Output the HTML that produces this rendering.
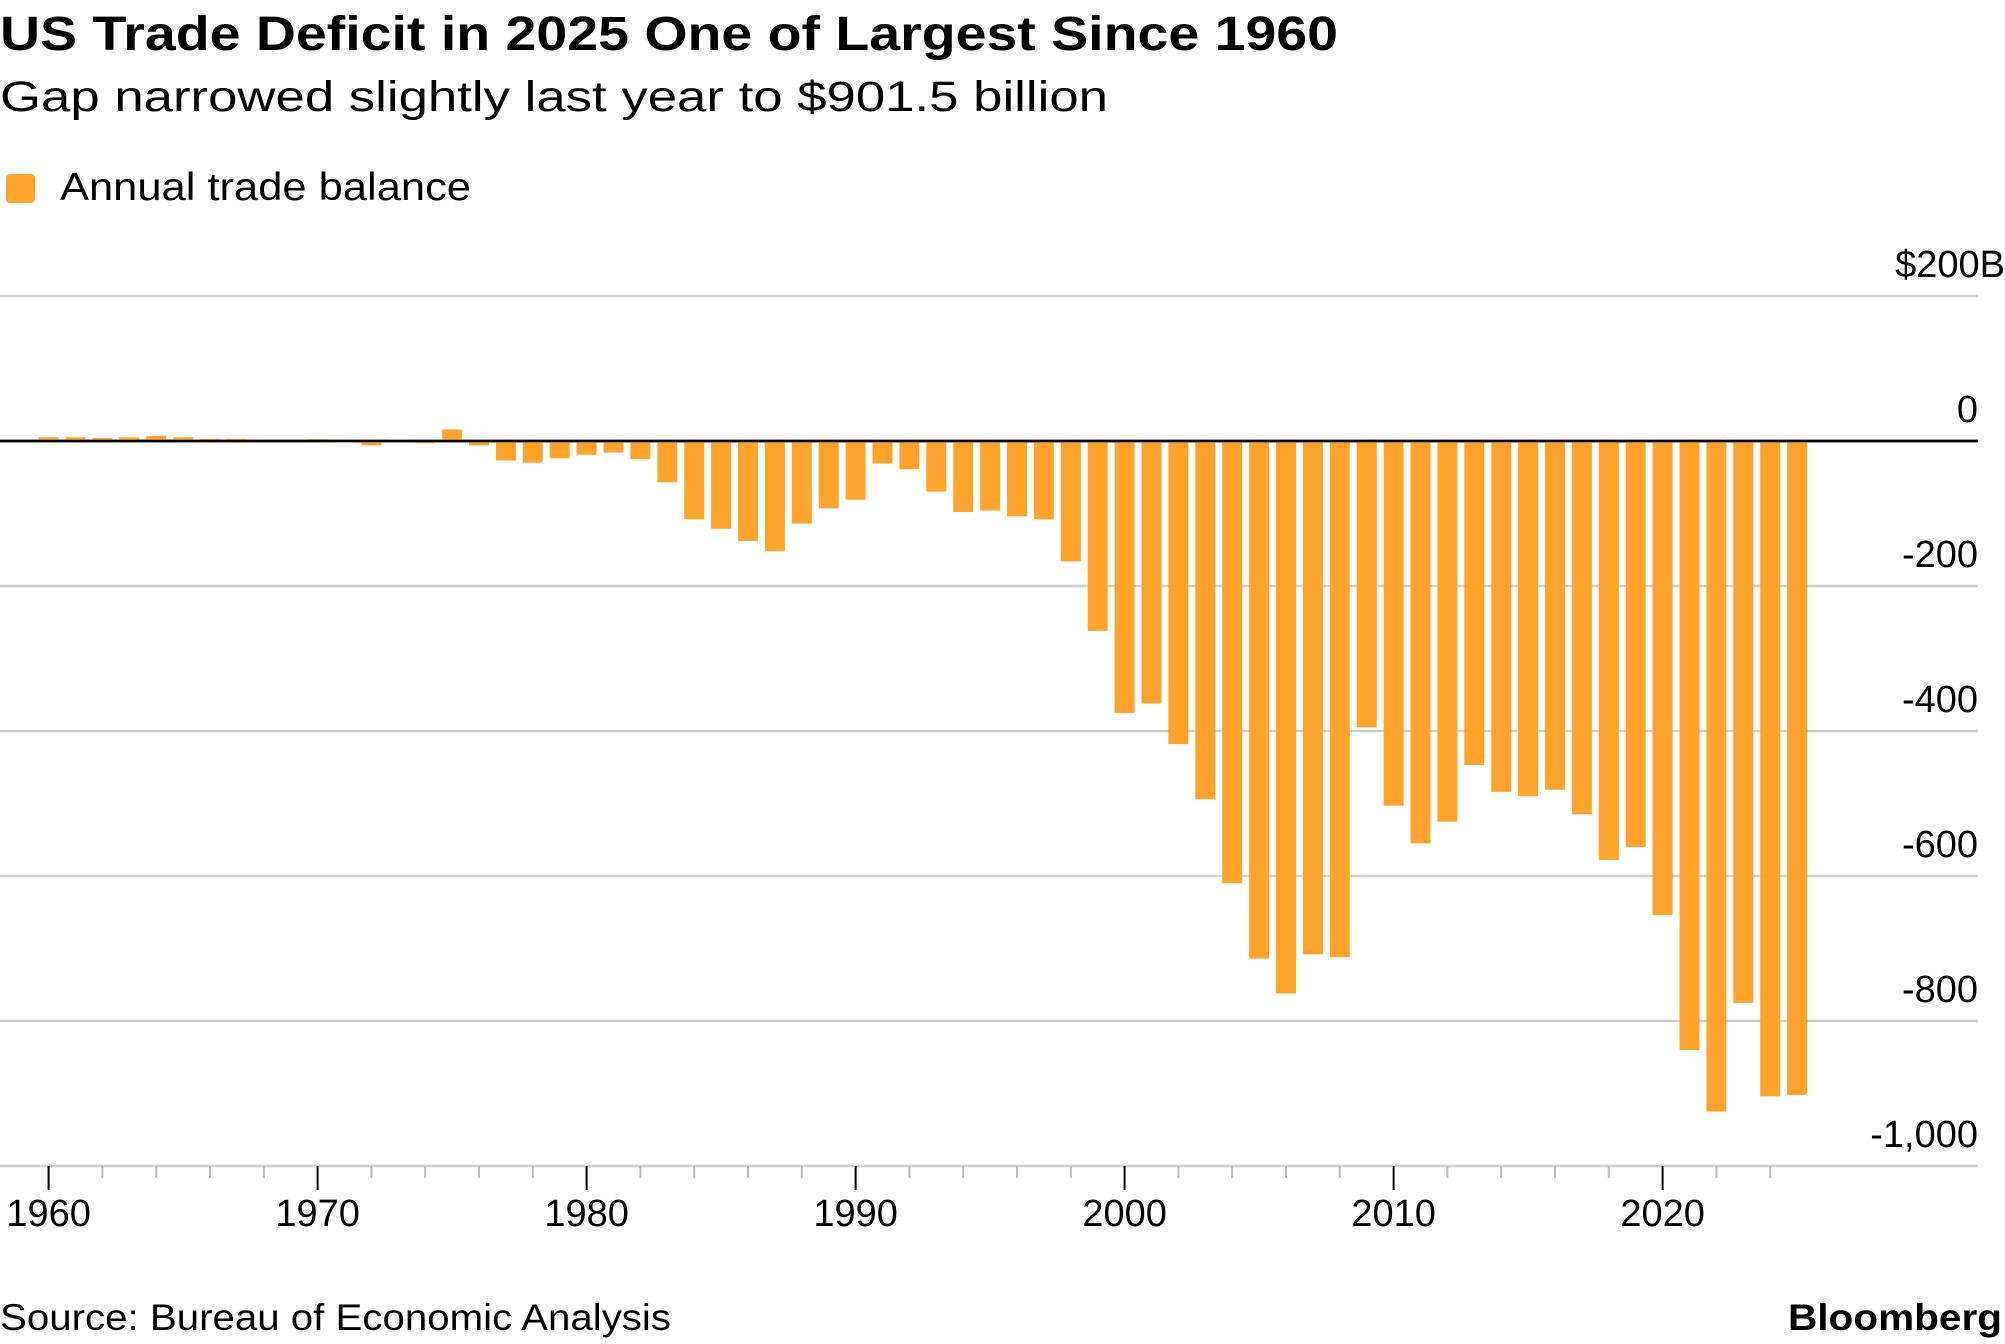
<!DOCTYPE html>
<html><head><meta charset="utf-8"><style>
body{margin:0;background:#fff;width:2005px;height:1344px;overflow:hidden;font-family:"Liberation Sans",sans-serif;}
svg{position:absolute;left:0;top:0}
</style></head><body>
<svg width="2005" height="1344">
<text x="0" y="50" font-size="48" font-weight="bold" fill="#000" textLength="1338" lengthAdjust="spacingAndGlyphs">US Trade Deficit in 2025 One of Largest Since 1960</text>
<text x="0" y="111" font-size="43" fill="#000" textLength="1108" lengthAdjust="spacingAndGlyphs">Gap narrowed slightly last year to $901.5 billion</text>
<rect x="6" y="174" width="29" height="29" rx="4" fill="#ffa32d"/>
<text x="60" y="200" font-size="39" fill="#000" textLength="411" lengthAdjust="spacingAndGlyphs">Annual trade balance</text>
<g id="grid"></g><g id="bars"></g><g id="xaxis"></g>
<text x="0" y="1330" font-size="37" fill="#000" textLength="671" lengthAdjust="spacingAndGlyphs">Source: Bureau of Economic Analysis</text>
<text x="1788" y="1330" font-size="37" font-weight="bold" fill="#000" textLength="214" lengthAdjust="spacingAndGlyphs">Bloomberg</text>
</svg>
<script>
const years=[];for(let y=1960;y<=2025;y++)years.push(y);
const values=[5,5,4,5,7,5,3,3,0.6,0.6,2.6,-2,-6,2,-3,16,-6,-27,-30,-24,-19,-16,-25,-57,-108,-121,-138,-152,-114,-93,-81,-31,-39,-70,-98,-96,-104,-108,-166,-262,-375,-362,-418,-494,-610,-714,-762,-708,-712,-395,-503,-555,-525,-447,-484,-490,-481,-515,-578,-560,-654,-840,-925,-775,-904,-902];
const yTicks=[200,0,-200,-400,-600,-800,-1000];
const yTickLabels=["$200B","0","-200","-400","-600","-800","-1,000"];
const xTickYears=[1960,1970,1980,1990,2000,2010,2020];
const NS="http://www.w3.org/2000/svg";
const yS=v=>441-(v/200)*145;
const xS=y=>48.6+(y-1960)*26.9;
function mk(t,a,p){const e=document.createElementNS(NS,t);for(const k in a)e.setAttribute(k,a[k]);p.appendChild(e);return e;}
const G=document.getElementById('grid'),B=document.getElementById('bars'),X=document.getElementById('xaxis');
yTicks.forEach((v,i)=>{
 const l=mk('line',{x1:0,x2:1978,y1:yS(v),y2:yS(v),stroke:v===0?'#000':'#cfcfcf','stroke-width':2.5},G);
 
 
 const t=mk('text',{x:i===0?2005:1978,y:yS(v)-19,'font-size':38,'text-anchor':'end',fill:'#000'},G);
 t.textContent=yTickLabels[i];
 
 
});
years.forEach((yr,i)=>{
 const v=values[i];const y0=yS(0),y1=yS(v);
 const r=mk('rect',{x:xS(yr)-10,width:20,y:Math.min(y0,y1),height:Math.max(1,Math.abs(y1-y0)),fill:'#ffa32d'},B);
 
 
});
mk('line',{x1:0,x2:1978,y1:441,y2:441,stroke:'#000','stroke-width':2.5},B);
for(let yr=1960;yr<=2024;yr+=2){
 const major=yr%10===0;
 const t=mk('line',{x1:xS(yr),x2:xS(yr),y1:1166,y2:major?1190:1178,stroke:major?'#000':'#bbb','stroke-width':2},X);
 
 
}
xTickYears.forEach(yr=>{
 const t=mk('text',{x:xS(yr),y:1226,'font-size':38,'text-anchor':'middle',fill:'#000'},X);
 t.textContent=yr;
 
 
});
</script>
</body></html>
